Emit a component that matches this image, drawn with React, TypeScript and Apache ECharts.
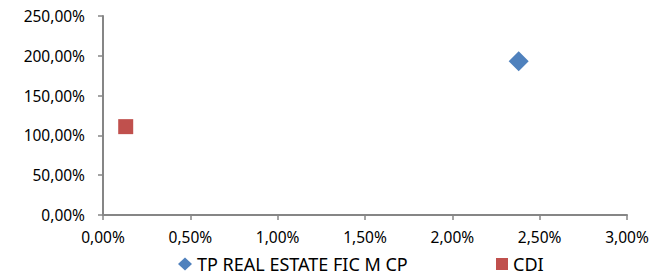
import React, { useEffect, useRef } from "react";
import * as echarts from "echarts";

const seriesNames = ["TP REAL ESTATE FIC M CP", "CDI"];
const seriesX = [2.38, 0.13];
const seriesY = [193, 111];
const seriesColors = ["#4F81BD", "#C0504D"];
const seriesSymbols = ["diamond", "rect"];
const xTicks = { min: 0, max: 3, interval: 0.5 };
const yTicks = { min: 0, max: 250, interval: 50 };

const fmt = (v: number) => v.toFixed(2).replace(".", ",") + "%";
const FONT = "Noto Sans";

export default function App() {
  const ref = useRef<HTMLDivElement>(null);
  useEffect(() => {
    if (!ref.current) return;
    const chart = echarts.init(ref.current, undefined, { renderer: "svg" });
    const axisCommon = {
      axisLine: { show: true, lineStyle: { color: "#868686", width: 2 } },
      axisTick: { show: true, length: 5, lineStyle: { color: "#868686", width: 1.5 } },
      splitLine: { show: false },
    };
    const legendText = { fontFamily: FONT, fontSize: 18, color: "#000", lineHeight: 18 };
    chart.setOption({
      animation: false,
      backgroundColor: "#ffffff",
      grid: { left: 103, right: 37, top: 16, bottom: 61, containLabel: false },
      xAxis: {
        type: "value",
        min: xTicks.min,
        max: xTicks.max,
        interval: xTicks.interval,
        ...axisCommon,
        axisLabel: { formatter: fmt, color: "#000", fontFamily: FONT, fontSize: 15.5, margin: 14 },
      },
      yAxis: {
        type: "value",
        min: yTicks.min,
        max: yTicks.max,
        interval: yTicks.interval,
        ...axisCommon,
        axisLabel: { formatter: fmt, color: "#000", fontFamily: FONT, fontSize: 15.5, margin: 18 },
      },
      legend: [
        {
          data: [seriesNames[0]],
          left: 178,
          top: 255,
          padding: 0,
          itemWidth: 14,
          itemHeight: 13,
          textStyle: legendText,
        },
        {
          data: [seriesNames[1]],
          left: 496,
          top: 255,
          padding: 0,
          itemWidth: 12,
          itemHeight: 12,
          textStyle: legendText,
        },
      ],
      series: seriesNames.map((name, i) => ({
        name,
        type: "scatter",
        symbol: seriesSymbols[i],
        symbolSize: i === 0 ? 20 : 15,
        itemStyle: { color: seriesColors[i], opacity: 1 },
        data: [[seriesX[i], seriesY[i]]],
      })),
    });
    return () => chart.dispose();
  }, []);
  return <div ref={ref} style={{ width: 664, height: 276, position: "absolute", left: 0, top: 0 }} />;
}
